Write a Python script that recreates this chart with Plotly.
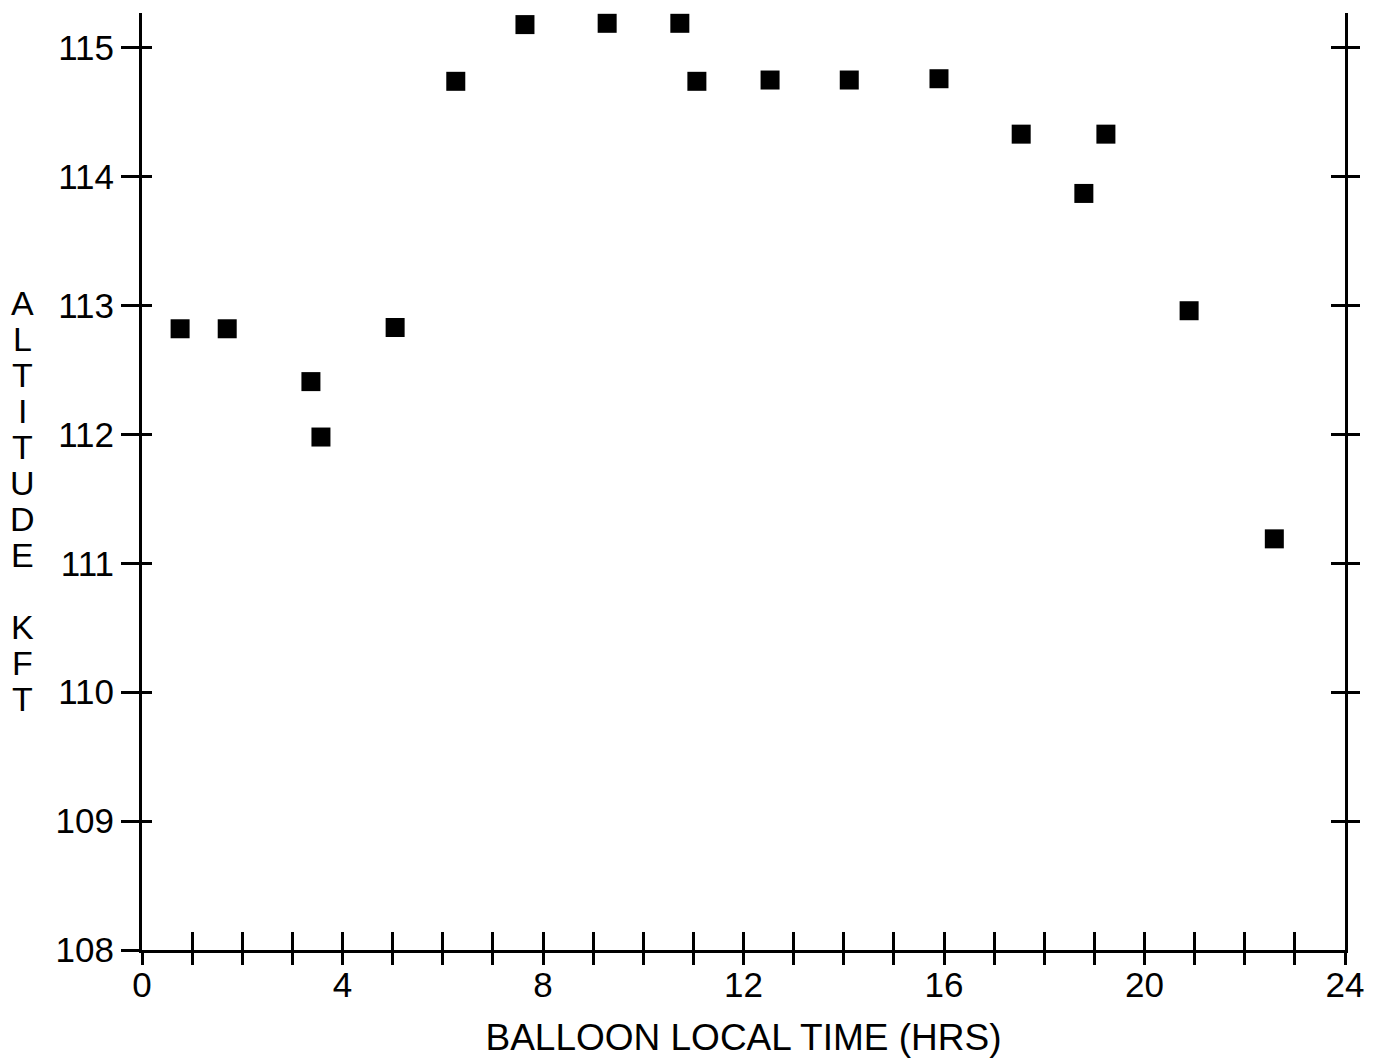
import plotly.graph_objects as go

# Data
local_time_hrs = [0.76, 1.70, 3.37, 3.57, 5.05, 6.26, 7.64, 9.28, 10.73, 11.07,
                  12.53, 14.11, 15.90, 17.54, 18.79, 19.23, 20.89, 22.59]
altitude_kft = [112.82, 112.82, 112.41, 111.98, 112.83, 114.74, 115.18, 115.19, 115.19, 114.74,
                114.75, 114.75, 114.76, 114.33, 113.87, 114.33, 112.96, 111.19]

x_tick_vals = list(range(0, 25))
x_tick_text = [str(v) if v % 4 == 0 else "" for v in x_tick_vals]
y_tick_vals = [108, 109, 110, 111, 112, 113, 114, 115]
y_tick_text = [str(v) for v in y_tick_vals]
y_right_tick_vals = [109, 110, 111, 112, 113, 114, 115]

x_title = "BALLOON LOCAL TIME (HRS)"
y_title_letters = ["A", "L", "T", "I", "T", "U", "D", "E", "", "K", "F", "T"]

FONT = "Liberation Sans, Arial, Helvetica, sans-serif"
X_RANGE = [0, 24]
Y_RANGE = [108, 115.27]

fig = go.Figure()
fig.add_trace(go.Scatter(
    x=local_time_hrs, y=altitude_kft, mode="markers",
    marker=dict(symbol="square", size=19, color="black", line=dict(width=0)),
    cliponaxis=False, showlegend=False,
))

axis_common = dict(showgrid=False, zeroline=False, linecolor="black", linewidth=3,
                   tickcolor="black", tickwidth=3, automargin=False)
tick_only = {k: v for k, v in axis_common.items() if k not in ("linecolor", "linewidth")}

fig.update_layout(
    width=1381, height=1064,
    margin=dict(l=142, r=36, t=13, b=114),
    paper_bgcolor="white", plot_bgcolor="white",
    font=dict(family=FONT, color="black"),
    xaxis=dict(range=X_RANGE, tickvals=x_tick_vals, ticktext=x_tick_text,
               ticks="outside", ticklen=12, showline=True, ticklabelstandoff=-10,
               tickfont=dict(size=35, family=FONT, color="black"),
               title=dict(text=x_title, font=dict(size=37, family=FONT, color="black"), standoff=22),
               **axis_common),
    xaxis2=dict(range=X_RANGE, overlaying="x", anchor="y", side="bottom",
                tickvals=x_tick_vals, ticks="inside", ticklen=18, showticklabels=False,
                showline=False, **tick_only),
    yaxis=dict(range=Y_RANGE, tickvals=y_tick_vals, ticktext=y_tick_text,
               ticks="outside", ticklen=18, showline=True,
               tickfont=dict(size=35, family=FONT, color="black"),
               **axis_common),
    yaxis2=dict(range=Y_RANGE, overlaying="y", anchor="x", side="left",
                tickvals=y_tick_vals, ticks="inside", ticklen=10, showticklabels=False,
                showline=False, **tick_only),
    yaxis3=dict(range=Y_RANGE, overlaying="y", anchor="x", side="right",
                tickvals=y_right_tick_vals, ticks="outside", ticklen=12, showticklabels=False,
                showline=True, **axis_common),
    yaxis4=dict(range=Y_RANGE, overlaying="y", anchor="x", side="right",
                tickvals=y_right_tick_vals, ticks="inside", ticklen=14, showticklabels=False,
                showline=False, **tick_only),
)

# dummy traces to activate overlay axes
fig.add_trace(go.Scatter(x=[None], y=[None], xaxis="x2", yaxis="y", showlegend=False, hoverinfo="skip"))
fig.add_trace(go.Scatter(x=[None], y=[None], xaxis="x", yaxis="y2", showlegend=False, hoverinfo="skip"))
fig.add_trace(go.Scatter(x=[None], y=[None], xaxis="x", yaxis="y3", showlegend=False, hoverinfo="skip"))
fig.add_trace(go.Scatter(x=[None], y=[None], xaxis="x", yaxis="y4", showlegend=False, hoverinfo="skip"))

# vertical stacked y-axis title
top_px, pitch_px = 303, 36
plot_h = 1064 - 13 - 114
for i, letter in enumerate(y_title_letters):
    if not letter:
        continue
    py = top_px + i * pitch_px
    fig.add_annotation(text=letter, xref="paper", yref="paper",
                       x=-(142 - 22) / (1381 - 142 - 36), y=1 - (py - 13) / plot_h,
                       xanchor="center", yanchor="middle", showarrow=False,
                       font=dict(size=34, family=FONT, color="black"))

fig.write_html("out.html")
